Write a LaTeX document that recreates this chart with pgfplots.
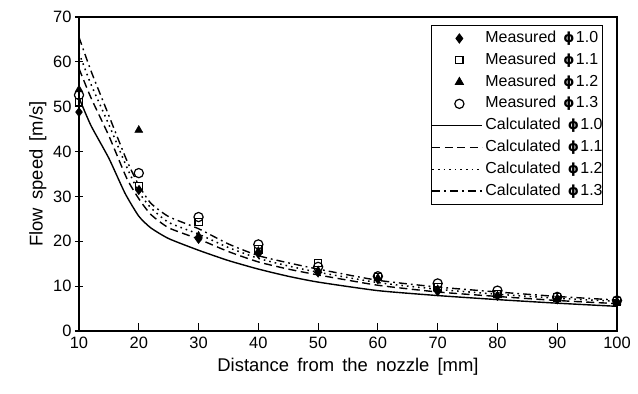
\documentclass[border=0pt]{standalone}
\usepackage{pgfplots}
\pgfplotsset{compat=1.18}
\usepackage{fontspec}
\setmainfont{Liberation Sans}[WordSpace=1.6]
\newfontfamily\tickfont{Liberation Sans}
\newfontfamily\dvb{DejaVu Sans Bold}
\newcommand{\ph}[1]{{\dvb\fontsize{14}{16}\selectfont ϕ}\hspace{1.5bp}#1\hspace{7bp}}
\begin{document}
\begin{tikzpicture}
\begin{axis}[
  scale only axis, width=538bp, height=314bp,
  xmin=10, xmax=100, ymin=0, ymax=70,
  xtick={10,20,...,100}, ytick={0,10,...,70},
  axis line style={line width=1.5bp},
  every tick/.style={black, line width=1.2bp},
  xtick align=inside, ytick align=center,
  major tick length=8bp,
  xtick pos=bottom, ytick pos=left,
  /pgf/number format/assume math mode=true,
  tick label style={font=\tickfont\fontsize{16.5}{18}\selectfont},
  xticklabel style={yshift=-3bp},
  label style={font=\fontsize{18.5}{20}\selectfont},
  xlabel={Distance from the nozzle [mm]},
  ylabel={Flow speed [m/s]},
  xlabel style={yshift=-2bp},
  ylabel style={yshift=0bp},
  legend cell align=left,
  legend style={at={(rel axis cs:0.974,0.9745)}, anchor=north east,
    draw=black, line width=0.9bp, inner xsep=0pt, inner ysep=4.5bp,
    font=\fontsize{16}{18}\selectfont, row sep=4.8bp,
    nodes={inner xsep=0pt, inner ysep=0pt, text height=12.5bp, text depth=4.5bp}},
  mk/.style={legend image code/.code={\path[draw=none] (0bp,0bp) -- (53bp,0bp); \draw[##1,/tikz/only marks] plot coordinates {(27bp,0bp)};}},
  ln/.style={legend image code/.code={\path[draw=none] (0bp,0bp) -- (53bp,0bp); \draw[##1] (0bp,0bp) -- (50bp,0bp);}},
]
\addplot[only marks, mark=diamond*, mark size=4.6bp, black, mk] coordinates {
(10,48.8) (20,31.4) (30,20.5) (40,17.2) (50,13) (60,11.5) (70,8.8) (80,7.8) (90,7.0) (100,6.5)};
\addlegendentry{Measured \ph{1.0}}
\addplot[only marks, mark=square, mark size=3.6bp, black, line width=1.2bp, mk] coordinates {
(10,51.1) (20,32.3) (30,24.3) (40,18.2) (50,15.2) (60,12) (70,9.8) (80,8.3) (90,7.5) (100,6.6)};
\addlegendentry{Measured \ph{1.1}}
\addplot[only marks, mark=triangle*, mark size=4.6bp, black, mk] coordinates {
(10,53.8) (20,44.8) (30,21.2) (40,17.8) (50,13.5) (60,11.8) (70,9.3) (80,7.9) (90,7.3) (100,6.5)};
\addlegendentry{Measured \ph{1.2}}
\addplot[only marks, mark=o, mark size=4.6bp, black, line width=1.2bp, mk] coordinates {
(10,52.6) (20,35.2) (30,25.4) (40,19.3) (50,14.3) (60,12.2) (70,10.6) (80,9.0) (90,7.6) (100,6.8)};
\addlegendentry{Measured \ph{1.3}}
\addplot[black, line width=1.4bp, smooth, tension=0.35, ln] coordinates {
(10,52) (12,45.8) (15,38.5) (17.7,30.7) (20,25.6) (22,23) (25,20.6) (30,18) (35,15.7) (40,13.8) (45,12.2) (50,10.9) (60,9.0) (70,7.9) (80,7.0) (90,6.2) (100,5.5)};
\addlegendentry{Calculated \ph{1.0}}
\addplot[black, line width=1.4bp, dash pattern=on 8bp off 4.5bp, smooth, tension=0.35, ln] coordinates {
(10,58.5) (12,52) (15,43.5) (18,34) (20,29.5) (22,26) (25,23) (30,20.5) (35,17.7) (40,15.4) (45,13.8) (50,12.5) (60,10.2) (70,8.7) (80,7.7) (90,6.8) (100,6.1)};
\addlegendentry{Calculated \ph{1.1}}
\addplot[black, line width=1.5bp, dash pattern=on 1.6bp off 4bp, smooth, tension=0.35, ln] coordinates {
(10,62) (12,55) (15,46) (18,36.5) (20,31) (22,27.5) (25,24.2) (30,21.6) (35,18.6) (40,16.2) (45,14.5) (50,13.1) (60,10.8) (70,9.3) (80,8.2) (90,7.3) (100,6.6)};
\addlegendentry{Calculated \ph{1.2}}
\addplot[black, line width=1.4bp, dash pattern=on 8bp off 4bp on 1.8bp off 4bp, smooth, tension=0.35, ln] coordinates {
(10,65.5) (12,58) (15,48) (18,38) (20,32.5) (22,28.5) (25,25.5) (30,22.8) (35,19.4) (40,16.8) (45,15.2) (50,13.8) (60,11.3) (70,9.8) (80,8.7) (90,7.7) (100,6.9)};
\addlegendentry{Calculated \ph{1.3}}
\coordinate (sw) at (rel axis cs:0,0);
\coordinate (ne) at (rel axis cs:1,1);
\end{axis}
\pgfresetboundingbox
\path[use as bounding box] ([shift={(-79bp,-63bp)}]sw) rectangle ([shift={(21bp,17bp)}]ne);
\end{tikzpicture}
\end{document}
